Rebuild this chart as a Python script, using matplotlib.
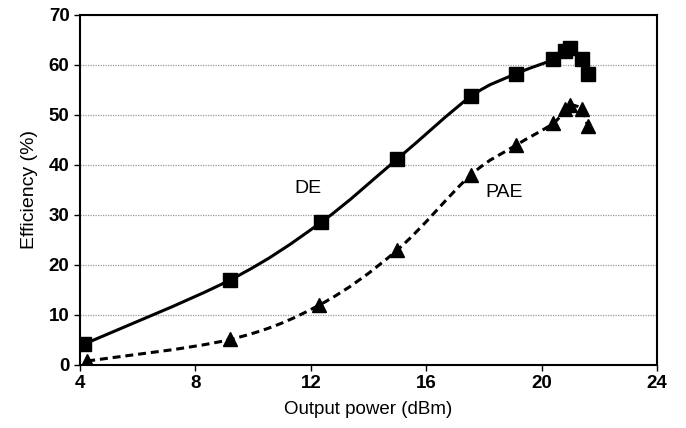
import numpy as np
import matplotlib.pyplot as plt
from matplotlib.path import Path
from matplotlib.patches import PathPatch

# output power (dBm) and efficiency (%)
de_pout = [4.15, 9.2, 12.35, 15.0, 17.55, 19.1, 20.4, 20.8, 21.0, 21.4, 21.6]
de_eff = [4.2, 17.0, 28.5, 41.2, 53.7, 58.2, 61.1, 62.8, 63.3, 61.2, 58.1]

pae_pout = [4.25, 9.2, 12.3, 15.0, 17.55, 19.1, 20.4, 20.8, 21.0, 21.4, 21.6]
pae_eff = [0.8, 5.1, 12.0, 23.0, 38.0, 43.9, 48.3, 51.1, 52.0, 51.1, 47.8]

x_ticks = [4, 8, 12, 16, 20, 24]
y_ticks = [0, 10, 20, 30, 40, 50, 60, 70]

plt.rcParams['font.family'] = ['Liberation Sans', 'DejaVu Sans']


def smooth_path(xs, ys, t=1 / 6):
    # excel-like smoothed line: cubic bezier segments through every point
    p = np.column_stack([xs, ys]).astype(float)
    n = len(p)
    verts = [p[0]]
    codes = [Path.MOVETO]
    for i in range(n - 1):
        prev = p[i - 1] if i > 0 else p[i]
        nxt = p[i + 2] if i + 2 < n else p[i + 1]
        c1 = p[i] + (p[i + 1] - prev) * t
        c2 = p[i + 1] - (nxt - p[i]) * t
        verts += [c1, c2, p[i + 1]]
        codes += [Path.CURVE4] * 3
    return Path(verts, codes)


fig = plt.figure(figsize=(6.86, 4.28), dpi=100)
ax = fig.add_axes([0.1166, 0.1472, 0.841, 0.8178])

ax.add_patch(PathPatch(smooth_path(de_pout, de_eff), fill=False,
                       edgecolor='black', lw=2.2, zorder=3))
ax.add_patch(PathPatch(smooth_path(pae_pout, pae_eff), fill=False,
                       edgecolor='black', lw=2.2, linestyle=(0, (2.6, 1.6)),
                       zorder=3))
ax.plot(de_pout, de_eff, ls='none', marker='s', ms=9.5, color='black', zorder=4)
ax.plot(pae_pout, pae_eff, ls='none', marker='^', ms=10, color='black', zorder=4)

ax.text(11.9, 35.2, 'DE', fontsize=14, ha='center', va='center')
ax.text(18.7, 34.4, 'PAE', fontsize=14, ha='center', va='center')

ax.set_xlim(4, 24)
ax.set_ylim(0, 70)
ax.set_xticks(x_ticks)
ax.set_yticks(y_ticks)
ax.tick_params(labelsize=13.5, width=1, length=4, direction='out')
for lab in ax.get_xticklabels() + ax.get_yticklabels():
    lab.set_fontweight('bold')

ax.yaxis.grid(True, linestyle=(0, (1, 1)), color='#999999', lw=0.9)
ax.set_axisbelow(True)
for s in ax.spines.values():
    s.set_linewidth(1.5)
    s.set_color('black')

ax.set_xlabel('Output power (dBm)', fontsize=13.5, labelpad=6)
ax.set_ylabel('Efficiency (%)', fontsize=14, labelpad=8)

fig.savefig('out.png', dpi=100)
